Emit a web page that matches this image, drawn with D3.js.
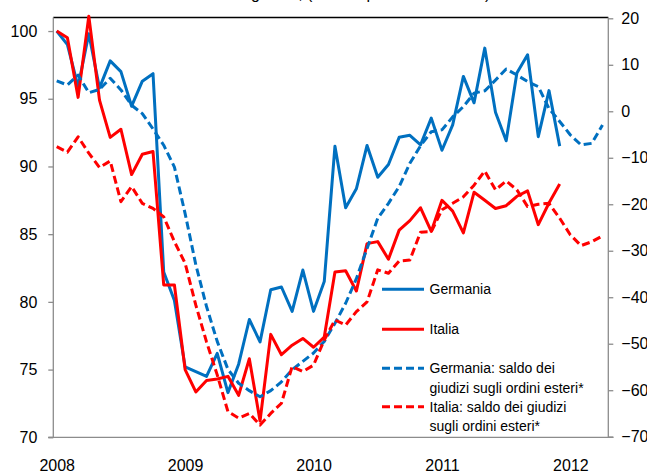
<!DOCTYPE html>
<html><head><meta charset="utf-8">
<script src="https://cdn.jsdelivr.net/npm/d3@7"></script>
<style>
html,body{margin:0;padding:0;background:#fff;}
svg{display:block;font-family:"Liberation Sans",Arial,sans-serif;}
</style></head>
<body><svg id="chart" width="647" height="473"></svg>
<script>
// ---- data ----
const startYear = 2008, startMonth = 0; // January 2008
const yearLabels = ["2008","2009","2010","2011","2012"];
const leftTicks = [70,75,80,85,90,95,100];
const rightTicks = [-70,-60,-50,-40,-30,-20,-10,0,10,20];
const seriesNames = ["Germania","Italia","Germania: saldo dei giudizi sugli ordini esteri*","Italia: saldo dei giudizi sugli ordini esteri*"];
const germania = [100.0,99.0,95.9,99.8,95.8,97.8,97.0,94.45,96.3,96.85,82.2,80.1,75.2,74.85,74.5,76.2,73.3,75.4,78.7,77.05,80.9,81.1,79.3,82.35,79.3,81.5,91.5,86.95,88.35,91.55,89.2,90.15,92.15,92.3,91.6,93.57,91.2,93.07,96.65,94.7,98.74,94.0,91.9,96.9,98.25,92.2,95.6,91.5];
const italia = [100.0,99.5,95.1,101.1,94.9,92.15,92.75,89.4,90.9,91.1,81.25,81.25,75.0,73.35,74.2,74.3,74.5,73.1,75.8,71.2,77.6,76.1,76.8,77.3,76.65,77.4,82.2,82.3,80.8,84.3,84.45,83.15,85.3,86.0,86.95,85.2,87.5,86.7,85.1,88.1,87.5,86.9,87.1,87.8,88.2,85.7,87.3,88.7];
const germaniaSaldo = [6.55,5.65,7.8,4.0,4.7,7.1,4.6,1.3,-0.5,-3.8,-7.3,-12,-22,-33,-42,-49.5,-55.5,-58.5,-60.1,-61.4,-60.1,-58.2,-55.6,-53.8,-52,-49.5,-45.6,-41.3,-36,-29.5,-23,-19.8,-16.2,-11.2,-7.4,-4.4,-4.0,-1.2,1.0,3.9,4.4,6.7,9.1,7.8,6.4,5.3,0.6,-2.2,-5.1,-7.25,-6.9,-2.95];
const italiaSaldo = [-7.6,-8.8,-5.5,-9.0,-12.1,-10.7,-19.45,-16.2,-19.8,-20.9,-22.7,-28.05,-32.7,-41.7,-49.6,-56.7,-64.6,-66.0,-65.0,-67.5,-65.0,-62.8,-54.9,-56.0,-54.6,-49.2,-44.9,-46.0,-43.1,-41.0,-34.1,-34.85,-32.2,-32.0,-26.0,-25.9,-21.2,-19.8,-18.4,-15.9,-12.85,-16.9,-15.0,-16.9,-20.5,-20.0,-19.8,-23.0,-26.6,-28.9,-28.05,-26.8];
const titleText = "Produzione industriale e ordini esteri destagionati, (indici e percentuali nette)";

// ---- layout ----
const BLUE = "#0070C0", RED = "#FF0000";
const plot = {left:53.3, right:608.3, top:17.5, bottom:437.3};
const svg = d3.select("#chart");

const x = d3.scaleLinear().domain([0, 51]).range([56.7, 602.5]);
const yL = d3.scaleLinear().domain([70, 101]).range([plot.bottom, plot.top]);
const yR = d3.scaleLinear().domain([-70, 20]).range([436.7, 18.3]);

// title (only the bottom of it is visible, as in the reference)
const title = svg.append("text").attr("x", 0).attr("y", -1)
  .attr("font-size",16).attr("fill","#000").text(titleText);
try {
  const gi = titleText.indexOf("destagionati") + 5;
  const off = title.node().getSubStringLength(0, gi);
  title.attr("x", 251 - off);
} catch(e) { title.attr("x", 0); }

// top border
svg.append("line").attr("x1",plot.left).attr("x2",plot.right).attr("y1",plot.top).attr("y2",plot.top)
  .attr("stroke","#000").attr("stroke-width",1.3);

// left axis
const gL = svg.append("g").attr("transform",`translate(${plot.left},0)`)
  .call(d3.axisLeft(yL).tickValues(leftTicks).tickSize(5).tickPadding(11));
// right axis
const gR = svg.append("g").attr("transform",`translate(${plot.right},0)`)
  .call(d3.axisRight(yR).tickValues(rightTicks).tickSize(5).tickPadding(8));
[gL,gR].forEach(g=>{
  g.select(".domain").attr("stroke","#8c8c8c").attr("stroke-width",1.3);
  g.selectAll(".tick line").attr("stroke","#8c8c8c").attr("stroke-width",1.3);
  g.selectAll(".tick text").attr("font-size",16).attr("fill","#000")
    .attr("font-family","'Liberation Sans',Arial,sans-serif");
});
gL.select(".domain").attr("d",`M-5,${plot.bottom}H0V${plot.top}`);
gR.select(".domain").attr("d",`M5,${plot.bottom}H0V${plot.top}`);

// bottom axis line
svg.append("line").attr("x1",plot.left-5).attr("x2",plot.right+5)
  .attr("y1",plot.bottom).attr("y2",plot.bottom)
  .attr("stroke","#8c8c8c").attr("stroke-width",1.3);
// year labels
const gX = svg.append("g").attr("transform",`translate(0,${plot.bottom})`)
  .call(d3.axisBottom(x).tickValues(yearLabels.map((d,k)=>k*12))
     .tickFormat((d,k)=>yearLabels[k]).tickSize(0).tickPadding(22));
gX.select(".domain").remove();
gX.selectAll(".tick text").attr("font-size",16).attr("fill","#000")
  .attr("font-family","'Liberation Sans',Arial,sans-serif");

// lines
const lineL = d3.line().x((d,i)=>x(i)).y(d=>yL(d)).curve(d3.curveLinear);
const lineR = d3.line().x((d,i)=>x(i)).y(d=>yR(d)).curve(d3.curveLinear);
const series = [
  {data:germania, line:lineL, color:BLUE, dash:null},
  {data:italia, line:lineL, color:RED, dash:null},
  {data:germaniaSaldo, line:lineR, color:BLUE, dash:"8,4"},
  {data:italiaSaldo, line:lineR, color:RED, dash:"8,4"}
];
series.forEach(s=>{
  svg.append("path").datum(s.data).attr("d",s.line)
    .attr("fill","none").attr("stroke",s.color).attr("stroke-width",3)
    .attr("stroke-linejoin","round")
    .attr("stroke-dasharray",s.dash);
});

// legend
const legend = [
  {y:289.3, color:BLUE, dash:null, lines:[seriesNames[0]]},
  {y:329.3, color:RED, dash:null, lines:[seriesNames[1]]},
  {y:368.3, color:BLUE, dash:"8,4", lines:["Germania: saldo dei","giudizi sugli ordini esteri*"]},
  {y:406.7, color:RED, dash:"8,4", lines:["Italia: saldo dei giudizi","sugli ordini esteri*"]}
];
legend.forEach(l=>{
  svg.append("line").attr("x1",382).attr("x2",424).attr("y1",l.y).attr("y2",l.y)
    .attr("stroke",l.color).attr("stroke-width",3).attr("stroke-dasharray",l.dash);
  l.lines.forEach((t,k)=>{
    svg.append("text").attr("x",429.5).attr("y",l.y+5+k*19.5)
      .attr("font-size",14).attr("fill","#000").text(t);
  });
});
</script></body></html>
